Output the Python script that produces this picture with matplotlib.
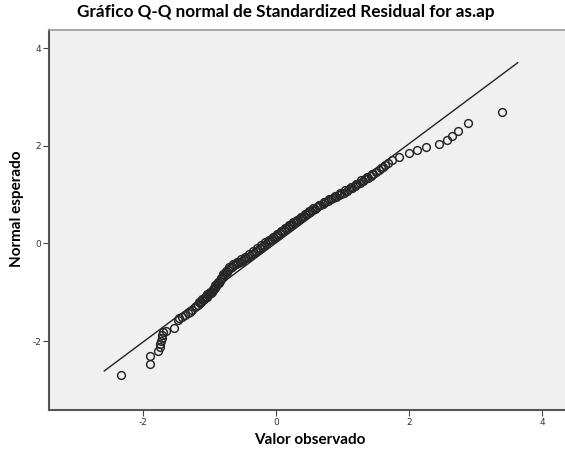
import matplotlib
matplotlib.use("Agg")
from matplotlib import pyplot as plt
import numpy as np

plt.rcParams['axes.unicode_minus'] = False

low_x = [-2.33, -1.90, -1.89, -1.77, -1.74, -1.74, -1.73, -1.72, -1.71, -1.70,
         -1.66, -1.53, -1.48, -1.45, -1.41, -1.36, -1.32, -1.29, -1.26, -1.22, -1.20]
low_y = [-2.70, -2.46, -2.31, -2.20, -2.12, -2.05, -1.99, -1.93, -1.87, -1.82,
         -1.79, -1.74, -1.57, -1.53, -1.50, -1.47, -1.43, -1.40, -1.36, -1.31, -1.29]

band_x = [-1.17, -1.14, -1.12, -1.10, -1.08, -1.06, -1.04, -1.02, -1.00, -0.98, -0.96,
          -0.94, -0.92, -0.90, -0.88, -0.86, -0.84, -0.82, -0.80, -0.78, -0.76, -0.74,
          -0.72, -0.69, -0.66, -0.63, -0.60, -0.57, -0.54, -0.51, -0.48, -0.45, -0.42,
          -0.39, -0.36, -0.33, -0.30, -0.27, -0.24, -0.21, -0.18, -0.15,
          -0.12, -0.09, -0.06, -0.03, 0.00, 0.03, 0.06, 0.09, 0.12, 0.15, 0.18, 0.21,
          0.24, 0.27, 0.30, 0.33, 0.36, 0.39, 0.42, 0.45, 0.48, 0.51, 0.54,
          0.58, 0.62, 0.66, 0.70, 0.74, 0.78, 0.82, 0.86, 0.90, 0.94, 0.98, 1.02, 1.06,
          1.10, 1.14, 1.18, 1.22, 1.26, 1.30, 1.34, 1.38, 1.42, 1.46, 1.50, 1.54, 1.58]
band_y = [-1.26, -1.22, -1.19, -1.16, -1.13, -1.11, -1.09, -1.06, -1.04, -1.02, -0.99,
          -0.96, -0.92, -0.88, -0.84, -0.80, -0.76, -0.72, -0.68, -0.64, -0.61, -0.58,
          -0.54, -0.51, -0.48, -0.45, -0.43, -0.40, -0.37, -0.35, -0.32, -0.30, -0.27,
          -0.25, -0.22, -0.19, -0.16, -0.13, -0.10, -0.07, -0.04, -0.01,
          0.04, 0.07, 0.10, 0.12, 0.15, 0.18, 0.21, 0.25, 0.28, 0.31, 0.34, 0.37,
          0.40, 0.43, 0.46, 0.49, 0.52, 0.55, 0.57, 0.60, 0.62, 0.65, 0.68,
          0.71, 0.74, 0.78, 0.81, 0.84, 0.87, 0.90, 0.93, 0.96, 0.99, 1.01, 1.04, 1.08,
          1.11, 1.14, 1.18, 1.21, 1.24, 1.28, 1.31, 1.35, 1.38, 1.42, 1.46, 1.50, 1.55]

# overlapping points on the upper edge of the dense band
band2_x = [-1.15, -1.11, -1.07, -1.03, -0.99, -0.95, -0.91, -0.87, -0.83, -0.79, -0.75,
           -0.70, -0.64, -0.58, -0.52, -0.46, -0.40, -0.34, -0.28, -0.22, -0.16,
           -0.10, -0.04, 0.02, 0.08, 0.14, 0.20, 0.26, 0.32, 0.38, 0.44, 0.50,
           0.56, 0.64, 0.72, 0.80, 0.88, 0.96, 1.04, 1.12, 1.20, 1.28, 1.36, 1.44]
band2_y = [-1.20, -1.14, -1.09, -1.03, -0.99, -0.93, -0.86, -0.79, -0.71, -0.63, -0.56,
           -0.49, -0.43, -0.38, -0.32, -0.27, -0.21, -0.16, -0.10, -0.04, 0.02,
           0.08, 0.14, 0.20, 0.26, 0.32, 0.38, 0.44, 0.49, 0.55, 0.61, 0.66,
           0.72, 0.79, 0.85, 0.91, 0.97, 1.03, 1.09, 1.15, 1.22, 1.29, 1.36, 1.43]

high_x = [1.60, 1.64, 1.68, 1.74, 1.84, 2.00, 2.11, 2.25, 2.45, 2.57, 2.65, 2.74, 2.89, 3.39]
high_y = [1.57, 1.61, 1.64, 1.70, 1.78, 1.86, 1.92, 1.98, 2.04, 2.11, 2.20, 2.31, 2.47, 2.70]

line_x = [-2.58, 3.63]
line_y = [-2.61, 3.70]

ticks = [-2, 0, 2, 4]

obs_x = np.array(low_x + band_x + band2_x + high_x)
exp_y = np.array(low_y + band_y + band2_y + high_y)

fig = plt.figure(figsize=(5.65, 4.55), dpi=100)
ax = fig.add_axes([49 / 565, 45 / 455, 516 / 565, 380 / 455])
ax.set_facecolor('#f0f0f0')

ax.plot(line_x, line_y, color='#222222', lw=1.0, zorder=2)
ax.plot(obs_x, exp_y, 'o', mfc='none', mec='#262626', ms=5.6, mew=1.05, zorder=3)

ax.set_xlim(-3.41, 4.34)
ax.set_ylim(-3.41, 4.37)
ax.set_xticks(ticks)
ax.set_yticks(ticks)
ax.tick_params(direction='out', length=4, width=0.8, color='#444444',
               labelsize=6.5, labelcolor='#333333', pad=1.5)

for s in ['left', 'bottom']:
    ax.spines[s].set_color('#555555')
    ax.spines[s].set_linewidth(1.5)
ax.spines['top'].set_color('#999999')
ax.spines['top'].set_linewidth(1.2)
ax.spines['right'].set_visible(False)

fig.text(0.505, 1 - 12 / 455, 'Gráfico Q-Q normal de Standardized Residual for as.ap',
         ha='center', va='center', fontsize=12.3, fontweight='bold', family='Lato')
fig.text(310 / 565, 1 - 440 / 455, 'Valor observado', ha='center', va='center',
         fontsize=11, fontweight='bold', family='Lato')
fig.text(17 / 565, 1 - 209 / 455, 'Normal esperado', ha='center', va='center',
         rotation=90, fontsize=11, fontweight='bold', family='Lato')

fig.savefig('out.png', dpi=100, facecolor='white')
